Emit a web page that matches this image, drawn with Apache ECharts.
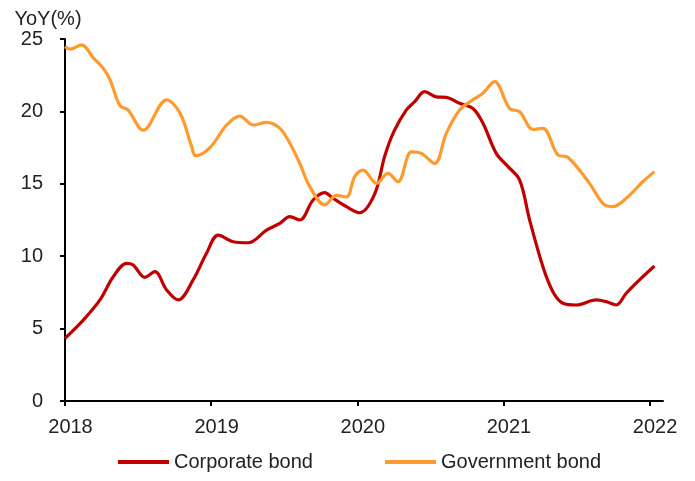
<!DOCTYPE html>
<html>
<head>
<meta charset="utf-8">
<script src="https://cdn.jsdelivr.net/npm/echarts@6/dist/echarts.min.js"></script>
<style>html,body{margin:0;padding:0;background:#fff}#c{width:695px;height:481px}</style>
</head>
<body>
<div id="c"></div>
<script>
// x positions in months since Jan 2018
const corporateMonths = [0,1.5,2.87,3.96,5.06,5.6,6.56,7.38,8.34,9.29,10.52,11.62,12.58,13.81,15.04,16.55,17.64,18.46,19.28,20.37,21.33,22.01,23.11,24.2,25.43,26.25,27.0,28.03,28.71,29.53,30.49,31.31,32.4,33.49,34.31,35.41,36.36,37.33,38.15,39.24,40.06,40.88,41.98,43.62,44.44,45.26,46.08,47.17,48.4];
const corporateBond = [4.33,5.59,6.98,8.58,9.51,9.39,8.54,8.93,7.67,6.98,8.36,10.2,11.46,11.0,10.93,11.8,12.27,12.73,12.5,13.88,14.39,14.0,13.42,13.0,14.3,16.9,18.6,20.1,20.67,21.36,21.0,20.97,20.56,20.2,19.2,17.1,16.2,15.26,12.5,9.27,7.55,6.75,6.63,6.98,6.86,6.63,7.44,8.36,9.32];
const governmentMonths = [0,0.41,1.37,2.32,3.12,3.69,4.51,5.17,6.42,8.34,9.43,10.39,10.72,11.9,13.27,14.36,15.45,16.55,17.64,18.46,19.28,20.1,21.33,22.29,23.11,23.79,24.47,25.57,26.52,27.34,28.44,29.26,30.35,31.31,32.4,33.49,34.31,35.27,36.5,37.33,38.42,39.24,40.47,41.29,43.07,44.16,44.98,46.08,47.44,48.4];
const governmentBond = [24.47,24.3,24.6,23.7,23.0,22.2,20.4,20.1,18.7,20.8,19.9,17.6,16.94,17.5,19.06,19.68,19.06,19.24,18.83,17.8,16.4,14.8,13.54,14.2,14.1,15.5,15.95,15.03,15.72,15.14,17.2,17.1,16.4,18.5,20.1,20.8,21.25,22.05,20.2,19.98,18.76,18.83,16.99,16.83,15.03,13.65,13.42,14.0,15.14,15.84];
const yearTicks = [0,12,24,36,48];
const yearLabels = ['2018','2019','2020','2021','2022'];
const seriesNames = ['Corporate bond','Government bond'];

const chart = echarts.init(document.getElementById('c'));
const font = 'Liberation Sans, Arial, sans-serif';
chart.setOption({
  animation:false,
  grid:{left:65,right:32,top:39,bottom:80},
  legend:{
    top:447, left:113,
    itemWidth:51, itemHeight:4, itemGap:72,
    icon:'rect',
    textStyle:{fontFamily:font,fontSize:20,color:'#222'},
    data:seriesNames
  },
  xAxis:{
    type:'value', min:0, max:49.1,
    axisLine:{lineStyle:{color:'#000',width:2}},
    axisTick:{customValues:yearTicks,length:5,lineStyle:{color:'#000',width:2}},
    axisLabel:{customValues:yearTicks,formatter:v=>yearLabels[yearTicks.indexOf(v)],fontFamily:font,fontSize:20,color:'#222',margin:16,padding:[0,0,0,11]},
    splitLine:{show:false}
  },
  yAxis:{
    type:'value', min:0, max:25, interval:5,
    name:'YoY(%)', nameLocation:'end', nameGap:10,
    nameTextStyle:{fontFamily:font,fontSize:20,color:'#222',align:'center',padding:[0,0,0,-34]},
    axisLine:{show:true,lineStyle:{color:'#000',width:2}},
    axisTick:{show:true,length:5,lineStyle:{color:'#000',width:2}},
    axisLabel:{fontFamily:font,fontSize:20,color:'#222',margin:22},
    splitLine:{show:false}
  },
  series:[
    {name:seriesNames[0],type:'line',smooth:0.35,showSymbol:false,symbol:'none',
     lineStyle:{color:'#C00000',width:3.2},itemStyle:{color:'#C00000'},
     data:corporateMonths.map((m,i)=>[m,corporateBond[i]])},
    {name:seriesNames[1],type:'line',smooth:0.35,showSymbol:false,symbol:'none',
     lineStyle:{color:'#FF9A2E',width:3.2},itemStyle:{color:'#FF9A2E'},
     data:governmentMonths.map((m,i)=>[m,governmentBond[i]])}
  ]
});
</script>
</body>
</html>
